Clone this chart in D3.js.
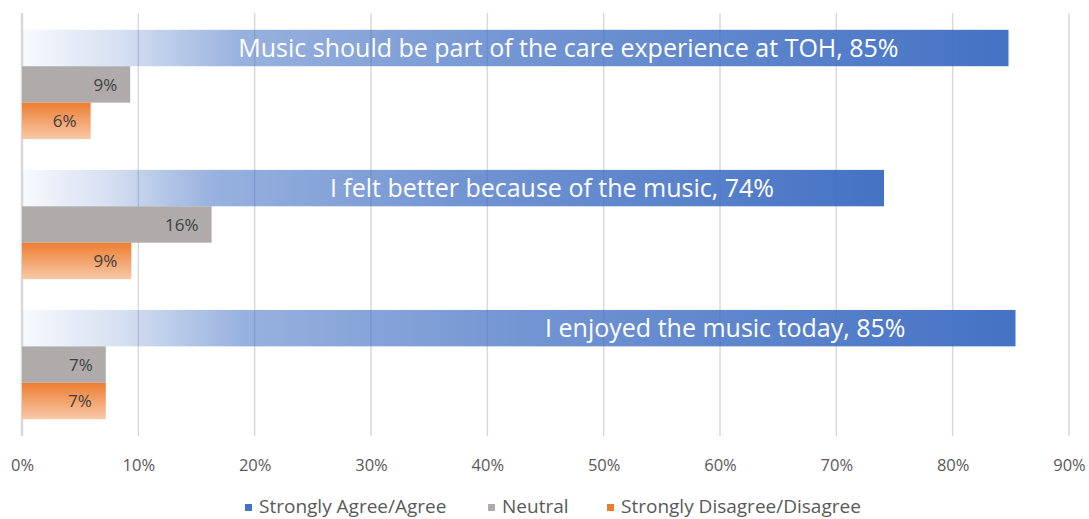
<!DOCTYPE html>
<html><head><meta charset="utf-8">
<script src="https://cdn.jsdelivr.net/npm/d3@7"></script>
<style>body{margin:0;background:#fff;}svg{display:block;font-family:"Open Sans","Liberation Sans",Arial,sans-serif;}</style>
</head><body><svg id="c" width="1089" height="519"></svg>
<script>
const statements = ["Music should be part of the care experience at TOH", "I felt better because of the music", "I enjoyed the music today"];
const agree = [84.8, 74.1, 85.4];
const neutral = [9.3, 16.3, 7.2];
const disagree = [5.9, 9.4, 7.2];
const seriesNames = ["Strongly Agree/Agree", "Neutral", "Strongly Disagree/Disagree"];
const tickValues = [0, 10, 20, 30, 40, 50, 60, 70, 80, 90];

(function () {
const svg = d3.select("#c");
const pL = 22, pR = 1069, pT = 13, pB = 436;
const FONT = "Open Sans, Liberation Sans, Arial, sans-serif";

const x = d3.scaleLinear().domain([0, 90]).range([pL, pR]);
const y = d3.scaleBand().domain(statements).range([pT, pB]).paddingInner(0.22).paddingOuter(0.12);
const sub = d3.scaleBand().domain(seriesNames).range([0, y.bandwidth()]);

const defs = svg.append("defs");
const gb = defs.append("linearGradient").attr("id", "gBlue").attr("x1", "0").attr("x2", "1").attr("y1", "0").attr("y2", "0");
[[0, 0.04], [0.1, 0.22], [0.22, 0.55], [0.5, 0.75], [0.8, 0.9], [1, 1]].forEach(([o, a]) =>
  gb.append("stop").attr("offset", o).attr("stop-color", "#4472C4").attr("stop-opacity", a));
const go = defs.append("linearGradient").attr("id", "gOrange").attr("x1", "0").attr("x2", "0").attr("y1", "0").attr("y2", "1");
go.append("stop").attr("offset", 0).attr("stop-color", "#ED7D31");
go.append("stop").attr("offset", 1).attr("stop-color", "#F8C9A8");

svg.append("g").selectAll("line").data(tickValues).join("line")
  .attr("x1", d => x(d)).attr("x2", d => x(d))
  .attr("y1", pT).attr("y2", pB)
  .attr("stroke", "#d9d9d9").attr("stroke-width", d => d === 0 ? 2.5 : 1.5);

const groups = svg.append("g").selectAll("g").data(statements).join("g")
  .attr("transform", d => `translate(0,${y(d)})`);

groups.append("rect")
  .attr("x", x(0)).attr("y", sub(seriesNames[0]))
  .attr("width", (d, i) => x(agree[i]) - x(0)).attr("height", sub.bandwidth())
  .attr("fill", "url(#gBlue)");
groups.append("rect")
  .attr("x", x(0)).attr("y", sub(seriesNames[1]))
  .attr("width", (d, i) => x(neutral[i]) - x(0)).attr("height", sub.bandwidth())
  .attr("fill", "#AEABAA");
groups.append("rect")
  .attr("x", x(0)).attr("y", sub(seriesNames[2]))
  .attr("width", (d, i) => x(disagree[i]) - x(0)).attr("height", sub.bandwidth())
  .attr("fill", "url(#gOrange)");

const fmt = v => Math.round(v) + "%";
groups.append("text")
  .attr("x", (d, i) => x(agree[i]) - 110)
  .attr("y", sub(seriesNames[0]) + sub.bandwidth() / 2)
  .attr("dy", "0.36em").attr("text-anchor", "end")
  .attr("fill", "#ffffff").attr("font-size", 25)
  .text((d, i) => `${d}, ${fmt(agree[i])}`);
groups.append("text")
  .attr("x", (d, i) => x(neutral[i]) - 13)
  .attr("y", sub(seriesNames[1]) + sub.bandwidth() / 2)
  .attr("dy", "0.36em").attr("text-anchor", "end")
  .attr("fill", "#404040").attr("font-size", 17)
  .text((d, i) => fmt(neutral[i]));
groups.append("text")
  .attr("x", (d, i) => x(disagree[i]) - 14)
  .attr("y", sub(seriesNames[2]) + sub.bandwidth() / 2)
  .attr("dy", "0.36em").attr("text-anchor", "end")
  .attr("fill", "#404040").attr("font-size", 17)
  .text((d, i) => fmt(disagree[i]));

const ax = svg.append("g").attr("transform", `translate(0,${pB + 23})`)
  .call(d3.axisBottom(x).tickValues(tickValues).tickFormat(d => d + "%").tickSize(0).tickPadding(0));
ax.select(".domain").remove();
ax.selectAll("text").attr("fill", "#595959").attr("font-size", 16.5).attr("font-family", FONT);

const legendColors = ["#4472C4", "#AEABAA", "#ED7D31"];
const legendX = [245, 488, 607];
const lg = svg.append("g").selectAll("g").data(seriesNames).join("g")
  .attr("transform", (d, i) => `translate(${legendX[i]},513)`);
lg.append("rect").attr("x", 0).attr("y", -9).attr("width", 7).attr("height", 7)
  .attr("fill", (d, i) => legendColors[i]);
lg.append("text").attr("x", 14).attr("y", 0).attr("fill", "#595959").attr("font-size", 19).text(d => d);
})();
</script></body></html>
